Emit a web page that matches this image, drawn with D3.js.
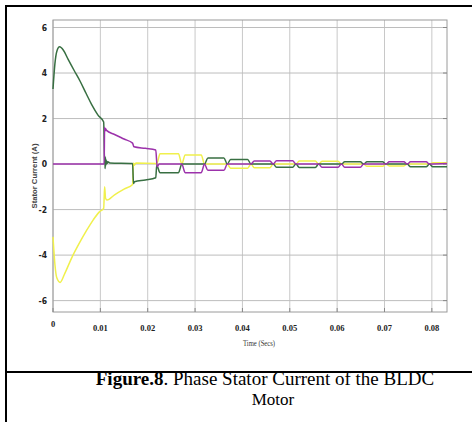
<!DOCTYPE html>
<html>
<head>
<meta charset="utf-8">
<script src="https://cdn.jsdelivr.net/npm/d3@7"></script>
<style>
  body { margin: 0; background: #fff; }
  svg { display: block; }
</style>
</head>
<body>
<script>
// values: [time (s), current (A)]
const greenPhase = [
  [0, 3.3], [0.0004, 4.4], [0.0008, 4.95], [0.0014, 5.15], [0.0022, 5.0], [0.0032, 4.6],
  [0.0045, 4.1], [0.0057, 3.65], [0.0070, 3.1], [0.0082, 2.6], [0.0095, 2.15], [0.0107, 1.85],
  [0.0109, 0.0], [0.01095, 0.35], [0.0110, -0.2], [0.01105, 0.3], [0.0111, -0.1], [0.01115, 0.22],
  [0.0112, -0.02], [0.0113, 0.15], [0.0114, 0.02], [0.0116, 0.1], [0.0120, 0.05], [0.0168, 0.03],
  [0.0170, -0.85], [0.0172, -0.78], [0.0195, -0.7], [0.0217, -0.6],
  [0.0219, -0.05], [0.0226, -0.38], [0.0265, -0.38], [0.0272, 0],
  [0.0320, 0],
  [0.0327, 0.27], [0.0361, 0.27], [0.0368, 0],
  [0.0375, 0.2], [0.0411, 0.2], [0.0418, 0],
  [0.0465, 0],
  [0.0472, -0.14], [0.0506, -0.14], [0.0513, 0],
  [0.0520, -0.15], [0.0554, -0.15], [0.0561, 0],
  [0.0609, 0],
  [0.0616, 0.1], [0.0649, 0.1], [0.0656, 0],
  [0.0663, 0.1], [0.0696, 0.1], [0.0703, 0],
  [0.0748, 0],
  [0.0755, -0.12], [0.0788, -0.12], [0.0795, 0],
  [0.0802, -0.12], [0.0832, -0.12]
];

const magentaPhase = [
  [0, 0], [0.0108, 0], [0.0109, 1.62], [0.0110, 1.45], [0.0111, 1.55], [0.0113, 1.48],
  [0.0130, 1.3], [0.0150, 1.1], [0.0168, 0.92],
  [0.0171, 0.76], [0.0195, 0.69], [0.0217, 0.62],
  [0.0220, -0.12], [0.0224, 0], [0.0272, 0],
  [0.0279, -0.38], [0.0313, -0.38], [0.0320, 0],
  [0.0327, -0.27], [0.0361, -0.27], [0.0368, 0],
  [0.0418, 0],
  [0.0425, 0.14], [0.0458, 0.14], [0.0465, 0],
  [0.0472, 0.15], [0.0506, 0.15], [0.0513, 0],
  [0.0561, 0],
  [0.0568, -0.14], [0.0602, -0.14], [0.0609, 0],
  [0.0616, -0.14], [0.0649, -0.14], [0.0656, 0],
  [0.0703, 0],
  [0.0710, 0.1], [0.0741, 0.1], [0.0748, 0],
  [0.0755, 0.1], [0.0788, 0.1], [0.0795, 0],
  [0.0832, 0.02]
];

const yellowPhase = [
  [0, -3.2], [0.0004, -4.4], [0.0008, -5.0], [0.0015, -5.2], [0.0025, -4.8], [0.0040, -4.1],
  [0.0055, -3.5], [0.0070, -2.95], [0.0085, -2.45], [0.0098, -2.1], [0.0107, -1.95],
  [0.0109, -1.0], [0.0111, -1.5], [0.0114, -1.58], [0.0130, -1.35], [0.0150, -1.1], [0.0168, -0.9],
  [0.0170, 0.05], [0.0172, -0.05], [0.0175, 0.05], [0.0217, 0.03],
  [0.0219, 0], [0.0226, 0.45], [0.0265, 0.45], [0.0272, 0],
  [0.0279, 0.4], [0.0313, 0.4], [0.0320, 0],
  [0.0368, 0],
  [0.0375, -0.18], [0.0411, -0.18], [0.0418, 0],
  [0.0425, -0.16], [0.0458, -0.16], [0.0465, 0],
  [0.0513, 0],
  [0.0520, 0.13], [0.0554, 0.13], [0.0561, 0],
  [0.0568, 0.12], [0.0602, 0.12], [0.0609, 0],
  [0.0656, 0],
  [0.0663, -0.1], [0.0696, -0.1], [0.0703, 0],
  [0.0710, -0.08], [0.0741, -0.08], [0.0748, 0],
  [0.0795, 0],
  [0.0802, 0.06], [0.0832, 0.06]
];

const xTicks = [0, 0.01, 0.02, 0.03, 0.04, 0.05, 0.06, 0.07, 0.08];
const xTickLabels = ['0', '0.01', '0.02', '0.03', '0.04', '0.05', '0.06', '0.07', '0.08'];
const yTicks = [6, 4, 2, 0, -2, -4, -6];
const yTickLabels = ['6', '4', '2', '0', '-2', '-4', '-6'];

const xTitle = 'Time (Secs)';
const yTitle = 'Stator Current (A)';
const captionBold = 'Figure.8';
const captionRest = '. Phase Stator Current of the BLDC';
const captionLine2 = 'Motor';

const svg = d3.select('body').append('svg')
  .attr('width', 472)
  .attr('height', 422);

svg.append('rect').attr('width', 472).attr('height', 422).attr('fill', '#fff');

const x = d3.scaleLinear().domain([0, 0.0832]).range([53, 447]);
const y = d3.scaleLinear().domain([-6.5, 6.33]).range([312, 20]);

// grid
svg.selectAll('.vgrid')
  .data(xTicks)
  .enter()
  .append('line')
  .attr('class', 'vgrid')
  .attr('x1', (d) => x(d)).attr('x2', (d) => x(d))
  .attr('y1', 20).attr('y2', 312)
  .attr('stroke', '#c8c8c8')
  .attr('stroke-width', 1);

svg.selectAll('.hgrid')
  .data(yTicks)
  .enter()
  .append('line')
  .attr('class', 'hgrid')
  .attr('x1', 53).attr('x2', 447)
  .attr('y1', (d) => y(d)).attr('y2', (d) => y(d))
  .attr('stroke', '#bdbdbd')
  .attr('stroke-width', 1);

// plot box
svg.append('rect')
  .attr('x', 53).attr('y', 20)
  .attr('width', 394).attr('height', 292)
  .attr('fill', 'none')
  .attr('stroke', '#9a9a9a')
  .attr('stroke-width', 1);

// small inward ticks on right and bottom
svg.selectAll('.rtick')
  .data(yTicks)
  .enter()
  .append('line')
  .attr('x1', 443).attr('x2', 447)
  .attr('y1', (d) => y(d)).attr('y2', (d) => y(d))
  .attr('stroke', '#888');

svg.selectAll('.btick')
  .data(xTicks)
  .enter()
  .append('line')
  .attr('x1', (d) => x(d)).attr('x2', (d) => x(d))
  .attr('y1', 308).attr('y2', 312)
  .attr('stroke', '#888');

// curves
const line = d3.line()
  .x((d) => x(d[0]))
  .y((d) => y(d[1]))
  .curve(d3.curveMonotoneX);

const series = [
  { data: yellowPhase, color: '#f0f04c' },
  { data: greenPhase, color: '#386f42' },
  { data: magentaPhase, color: '#9c32ab' }
];

svg.selectAll('.phase')
  .data(series)
  .enter()
  .append('path')
  .attr('class', 'phase')
  .attr('d', (d) => line(d.data))
  .attr('fill', 'none')
  .attr('stroke', (d) => d.color)
  .attr('stroke-width', 1.5)
  .attr('stroke-linejoin', 'round');

// tick labels
svg.selectAll('.ylab')
  .data(yTicks)
  .enter()
  .append('text')
  .attr('x', 47)
  .attr('y', (d) => y(d) + 3)
  .attr('text-anchor', 'end')
  .attr('font-family', '"Liberation Sans Narrow", "DejaVu Sans Condensed", sans-serif')
  .attr('font-weight', 'bold')
  .attr('font-size', 8.5)
  .attr('fill', '#222')
  .text((d, i) => yTickLabels[i]);

svg.selectAll('.xlab')
  .data(xTicks)
  .enter()
  .append('text')
  .attr('x', (d) => x(d))
  .attr('y', (d) => (d === 0 ? 327 : 331))
  .attr('text-anchor', 'middle')
  .attr('font-family', '"Liberation Serif", serif')
  .attr('font-weight', 'bold')
  .attr('font-size', 8.5)
  .attr('fill', '#222')
  .text((d, i) => xTickLabels[i]);

svg.append('text')
  .attr('x', 259)
  .attr('y', 346)
  .attr('text-anchor', 'middle')
  .attr('font-family', '"Liberation Serif", serif')
  .attr('font-size', 8)
  .attr('textLength', 32)
  .attr('lengthAdjust', 'spacingAndGlyphs')
  .attr('fill', '#333')
  .text(xTitle);

svg.append('text')
  .attr('transform', 'translate(37,176) rotate(-90)')
  .attr('text-anchor', 'middle')
  .attr('font-family', '"Liberation Sans", Arial, sans-serif')
  .attr('font-weight', 'bold')
  .attr('font-size', 7)
  .attr('textLength', 65)
  .attr('lengthAdjust', 'spacingAndGlyphs')
  .attr('fill', '#444')
  .text(yTitle);

// figure frame
svg.append('line').attr('x1', 5).attr('x2', 472).attr('y1', 6).attr('y2', 6)
  .attr('stroke', '#000').attr('stroke-width', 2);
svg.append('line').attr('x1', 6).attr('x2', 6).attr('y1', 5).attr('y2', 422)
  .attr('stroke', '#000').attr('stroke-width', 2);
svg.append('line').attr('x1', 5).attr('x2', 472).attr('y1', 372).attr('y2', 372)
  .attr('stroke', '#000').attr('stroke-width', 2);

// caption
const cap = svg.append('text')
  .attr('x', 265)
  .attr('y', 385)
  .attr('text-anchor', 'middle')
  .attr('font-family', '"Liberation Serif", "Times New Roman", serif')
  .attr('font-size', 19)
  .attr('fill', '#000');
cap.append('tspan').attr('font-weight', 'bold').text(captionBold);
cap.append('tspan').text(captionRest);

svg.append('text')
  .attr('x', 273)
  .attr('y', 405)
  .attr('text-anchor', 'middle')
  .attr('font-family', '"Liberation Serif", "Times New Roman", serif')
  .attr('font-size', 17)
  .attr('fill', '#000')
  .text(captionLine2);
</script>
</body>
</html>
